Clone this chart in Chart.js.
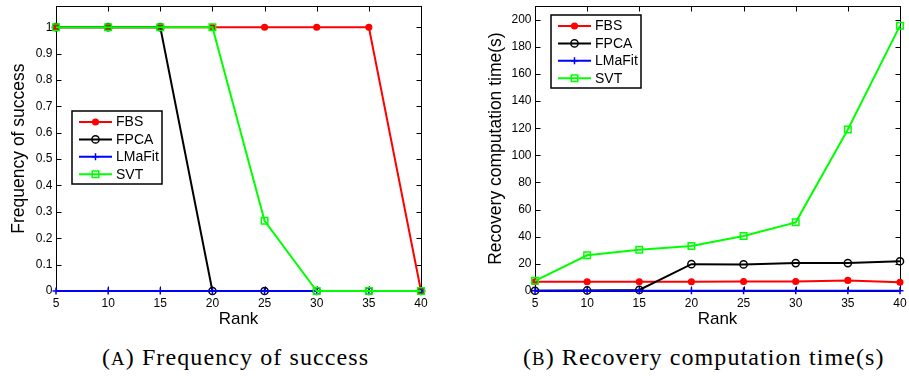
<!DOCTYPE html>
<html lang="en">
<head>
<meta charset="UTF-8" />
<title>Frequency of success / Recovery computation time</title>
<script src="https://cdn.jsdelivr.net/npm/chart.js"></script>
<style>
  body { margin: 0; width: 909px; height: 376px; background: #fff; position: relative; overflow: hidden; }
  canvas { position: absolute; top: 0; }
  #freq { left: 0; }
  #time { left: 455px; }
  .cap {
    position: absolute; top: 345px; color: #000; white-space: nowrap;
    font-family: "Liberation Serif", serif; font-size: 24px; line-height: 24px; letter-spacing: 1.1px;
  }
  .sc { font-size: 0.78em; }
</style>
</head>
<body>
<canvas id="freq" width="450" height="330"></canvas>
<canvas id="time" width="454" height="330"></canvas>
<div class="cap" style="left:102px">(<span class="sc">A</span>) Frequency of success</div>
<div class="cap" style="left:523px">(<span class="sc">B</span>) Recovery computation time(s)</div>

<script>
  const ranks = [5, 10, 15, 20, 25, 30, 35, 40];
  const freqTicks = [0, 0.1, 0.2, 0.3, 0.4, 0.5, 0.6, 0.7, 0.8, 0.9, 1];
  const timeTicks = [0, 20, 40, 60, 80, 100, 120, 140, 160, 180, 200];

  // (a) frequency of success
  const freqFBS    = [1, 1, 1, 1, 1, 1, 1, 0];
  const freqFPCA   = [1, 1, 1, 0, 0, 0, 0, 0];
  const freqLMaFit = [0, 0, 0, 0, 0, 0, 0, 0];
  const freqSVT    = [1, 1, 1, 1, 0.266, 0, 0, 0];

  // (b) recovery computation time in seconds
  const timeFBS    = [6.8, 6.8, 6.8, 6.8, 7.0, 7.0, 7.8, 6.5];
  const timeFPCA   = [0.2, 0.4, 0.8, 19.8, 19.6, 20.6, 20.6, 21.9];
  const timeLMaFit = [0.2, 0.2, 0.2, 0.2, 0.2, 0.2, 0.2, 0.2];
  const timeSVT    = [7.5, 26.3, 30.4, 33.1, 40.6, 50.6, 119, 195.6];

  const series = [
    { label: "FBS",    color: "#ff0000", style: "circle", radius: 2.8, fill: "#ff0000" },
    { label: "FPCA",   color: "#000000", style: "circle", radius: 3.6, fill: "rgba(0,0,0,0)" },
    { label: "LMaFit", color: "#0000ff", style: "cross",  radius: 3.5, fill: "#0000ff" },
    { label: "SVT",    color: "#00ff00", style: "rect",   radius: 4.6, fill: "rgba(0,0,0,0)" }
  ];

  Chart.defaults.font.family = "'Liberation Sans', Arial, sans-serif";
  Chart.defaults.color = "#000";

  function makeSets(values) {
    return series.map((s, i) => ({
      label: s.label,
      data: ranks.map((r, j) => ({ x: r, y: values[i][j] })),
      borderColor: s.color,
      backgroundColor: s.fill,
      borderWidth: 2,
      pointStyle: s.style,
      pointRadius: s.radius,
      pointHoverRadius: s.radius,
      pointBorderWidth: 1.5,
      pointBorderColor: s.color,
      pointBackgroundColor: s.fill,
      tension: 0,
      clip: false,
      order: series.length - i   // later series drawn on top, like matlab
    }));
  }

  // matlab style box with inward ticks on all four sides
  const frame = {
    id: "frame",
    beforeDatasetsDraw(chart) {
      const { ctx, chartArea: a, scales: { x, y } } = chart;
      const L = Math.round(a.left) + 0.5, R = Math.round(a.right) + 0.5;
      const T = Math.round(a.top) + 0.5, B = Math.round(a.bottom) + 0.5;
      ctx.save();
      ctx.strokeStyle = "#000";
      ctx.lineWidth = 1;
      ctx.strokeRect(L, T, R - L, B - T);
      ctx.beginPath();
      x.ticks.forEach(t => {
        const p = Math.round(x.getPixelForValue(t.value)) + 0.5;
        ctx.moveTo(p, B); ctx.lineTo(p, B - 5);
        ctx.moveTo(p, T); ctx.lineTo(p, T + 5);
      });
      y.ticks.forEach(t => {
        const p = Math.round(y.getPixelForValue(t.value)) + 0.5;
        ctx.moveTo(L, p); ctx.lineTo(L + 5, p);
        ctx.moveTo(R, p); ctx.lineTo(R - 5, p);
      });
      ctx.stroke();
      ctx.restore();
    }
  };

  // legend drawn inside the axes
  const boxLegend = {
    id: "boxLegend",
    afterDatasetsDraw(chart, args, opts) {
      const ctx = chart.ctx;
      const bx = opts.x, by = opts.y;
      ctx.save();
      ctx.fillStyle = "#fff";
      ctx.fillRect(bx, by, 90, 73);
      ctx.strokeStyle = "#000";
      ctx.lineWidth = 1.5;
      ctx.strokeRect(bx, by, 90, 73);
      chart.data.datasets.forEach((ds, i) => {
        const y = by + 11 + i * 17.4;
        ctx.strokeStyle = ds.borderColor;
        ctx.lineWidth = 2;
        ctx.beginPath();
        ctx.moveTo(bx + 7, y);
        ctx.lineTo(bx + 40, y);
        ctx.stroke();
        ctx.fillStyle = ds.pointBackgroundColor;
        ctx.lineWidth = 1.5;
        Chart.helpers.drawPoint(ctx, { pointStyle: ds.pointStyle, radius: ds.pointRadius, rotation: 0, borderWidth: 1.5 }, bx + 23.5, y);
        ctx.fillStyle = "#000";
        ctx.font = "14px 'Liberation Sans', Arial, sans-serif";
        ctx.textBaseline = "middle";
        ctx.fillText(ds.label, bx + 44, y + 0.5);
      });
      ctx.restore();
    }
  };

  function makeScales(yTicks, yMax, yWidth, yTitle) {
    return {
      x: {
        type: "linear", min: 5, max: 40,
        grid: { display: false, drawTicks: false },
        border: { display: false },
        afterBuildTicks: s => { s.ticks = ranks.map(v => ({ value: v })); },
        afterFit: s => { s.height = 39; s.paddingLeft = 0; s.paddingRight = 0; },
        ticks: { autoSkip: false, maxRotation: 0, padding: 5, font: { size: 12 }, callback: v => String(v) },
        title: { display: true, text: "Rank", font: { size: 17, lineHeight: 1 }, padding: { top: 0, bottom: 2 } }
      },
      y: {
        type: "linear", min: 0, max: yMax,
        grid: { display: false, drawTicks: false },
        border: { display: false },
        afterBuildTicks: s => { s.ticks = yTicks.map(v => ({ value: v })); },
        afterFit: s => { s.width = yWidth; s.paddingTop = 0; s.paddingBottom = 0; },
        ticks: { padding: 3.5, font: { size: 12 }, callback: v => String(v) },
        title: { display: true, text: yTitle, font: { size: 17.5, lineHeight: 1 }, padding: 0 }
      }
    };
  }

  function makeChart(id, values, yTicks, yMax, pad, yWidth, yTitle, legendPos) {
    new Chart(document.getElementById(id), {
      type: "line",
      data: { datasets: makeSets(values) },
      options: {
        responsive: false,
        animation: false,
        layout: { padding: pad },
        plugins: { legend: { display: false }, tooltip: { enabled: false }, boxLegend: legendPos },
        scales: makeScales(yTicks, yMax, yWidth, yTitle)
      },
      plugins: [frame, boxLegend]
    });
  }

  makeChart("freq", [freqFBS, freqFPCA, freqLMaFit, freqSVT], freqTicks, 1.08,
    { left: 10, top: 3, right: 29, bottom: 0 }, 46, "Frequency of success", { x: 72, y: 111 });

  makeChart("time", [timeFBS, timeFPCA, timeLMaFit, timeSVT], timeTicks, 210,
    { left: 32, top: 3, right: 9, bottom: 0 }, 48, "Recovery computation time(s)", { x: 96, y: 15 });
</script>
</body>
</html>
